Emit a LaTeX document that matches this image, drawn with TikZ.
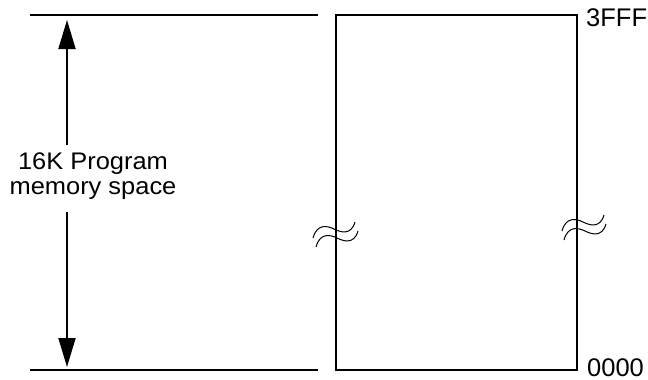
\documentclass[tikz,border=0pt]{standalone}
\usepackage{fontspec}
\setmainfont{Liberation Sans}
\usetikzlibrary{arrows.meta}
\tikzset{
  rule/.style = {line width=1.8pt},
  bigarrow/.style = {line width=1.8pt, -{Triangle[length=29pt, width=17pt]}},
  wave/.pic = {\draw[line width=1pt] (-21,8) .. controls (-17,-7) and (-6,-4) .. (0,-1) .. controls (6,2) and (17,6) .. (21,-8);},
  addr/.style = {font=\fontsize{25.5}{28}\selectfont, inner sep=0pt}
}
\begin{document}
\begin{tikzpicture}[x = 1pt, y = -1pt]
	\useasboundingbox (0,0) rectangle (648,380);
	% limits of the space
	\draw [rule] (30,15) -- (318,15);
	\draw [rule] (30,370) -- (318,370);
	\draw [rule] (336,15) rectangle (577,370);
	\node [addr, anchor = base west] (hi) at (586,27) {3FFF};
	\node [addr, anchor = base west] (lo) at (587,376) {0000};
	% size arrow
	\node [align = center, font = \fontsize{24}{25}\selectfont, xscale = 1.06] (lbl) at (93,176) {16K Program\\memory space};
	\coordinate (aTop) at (67,20);
	\coordinate (aBot) at (67,367);
	\coordinate (gapTop) at (67,145);
	\coordinate (gapBot) at (67,212);
	\draw [bigarrow] (gapTop) -- (aTop);
	\draw [bigarrow] (gapBot) -- (aBot);
	% breaks
	\pic at (334,230) {wave};
	\pic at (337,239) {wave};
	\pic at (583,223) {wave};
	\pic at (585,232) {wave};
\end{tikzpicture}
\end{document}
